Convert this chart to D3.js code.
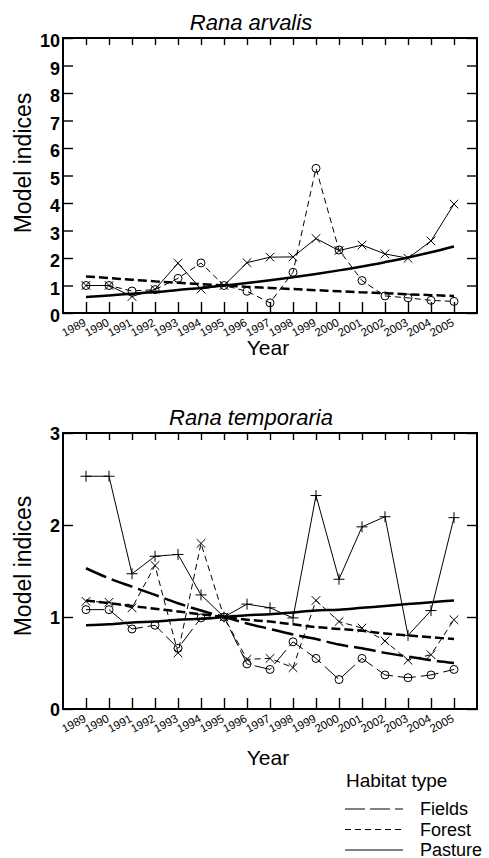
<!DOCTYPE html>
<html>
<head>
<meta charset="utf-8">
<script src="https://cdn.jsdelivr.net/npm/d3@7/dist/d3.min.js"></script>
<style>
  html, body { margin: 0; padding: 0; background: #fff; }
  svg { display: block; font-family: "Liberation Sans", Arial, Helvetica, sans-serif; }
</style>
</head>
<body>
<svg id="chart" width="489" height="858"></svg>
<script>
// Years on the x axis (also the tick labels)
const years = [1989, 1990, 1991, 1992, 1993, 1994, 1995, 1996, 1997, 1998, 1999, 2000, 2001, 2002, 2003, 2004, 2005];

// Rana arvalis: yearly indices and fitted trends
const arvalisForest = [1.0, 1.0, 0.8, 0.85, 1.26, 1.82, 1.0, 0.79, 0.37, 1.48, 5.26, 2.29, 1.18, 0.62, 0.55, 0.46, 0.42];
const arvalisPasture = [1.0, 1.0, 0.6, 0.86, 1.81, 0.87, 1.0, 1.83, 2.03, 2.04, 2.71, 2.27, 2.47, 2.15, 1.99, 2.62, 3.96];
const arvalisForestTrend = [1.33, 1.27, 1.21, 1.15, 1.10, 1.05, 1.0, 0.95, 0.91, 0.87, 0.83, 0.79, 0.75, 0.72, 0.68, 0.65, 0.62];
const arvalisPastureTrend = [0.58, 0.64, 0.70, 0.76, 0.84, 0.91, 1.0, 1.09, 1.19, 1.30, 1.42, 1.55, 1.69, 1.85, 2.02, 2.21, 2.42];
const arvalisTicks = [0, 1, 2, 3, 4, 5, 6, 7, 8, 9, 10];

// Rana temporaria: yearly indices and fitted trends
const temporariaFields = [1.08, 1.08, 0.87, 0.91, 0.66, 0.99, 1.0, 0.49, 0.43, 0.73, 0.55, 0.32, 0.55, 0.37, 0.34, 0.37, 0.43];
const temporariaForest = [1.17, 1.16, 1.1, 1.56, 0.61, 1.8, 1.0, 0.54, 0.55, 0.45, 1.18, 0.95, 0.88, 0.74, 0.53, 0.59, 0.97];
const temporariaPasture = [2.53, 2.53, 1.47, 1.66, 1.68, 1.24, 1.0, 1.14, 1.1, 0.99, 2.32, 1.41, 1.98, 2.09, 0.8, 1.07, 2.08];
const temporariaFieldsTrend = [1.53, 1.42, 1.33, 1.24, 1.15, 1.07, 1.0, 0.93, 0.87, 0.81, 0.76, 0.70, 0.66, 0.61, 0.57, 0.53, 0.50];
const temporariaForestTrend = [1.18, 1.15, 1.12, 1.09, 1.06, 1.03, 1.0, 0.97, 0.95, 0.92, 0.89, 0.87, 0.85, 0.82, 0.80, 0.78, 0.76];
const temporariaPastureTrend = [0.91, 0.92, 0.94, 0.95, 0.97, 0.98, 1.0, 1.02, 1.03, 1.05, 1.07, 1.08, 1.10, 1.12, 1.14, 1.16, 1.18];
const temporariaTicks = [0, 1, 2, 3];

// Legend entries
const habitats = ["Fields", "Forest", "Pasture"];

const svg = d3.select("#chart");
const left = 63, right = 477;
const x = d3.scaleLinear().domain([1988, 2006]).range([left, right]);

// dash patterns for thin series lines and thick trend lines
const thinDash = { Fields: "18,5", Forest: "6,4", Pasture: null };
const thickDash = { Fields: "22,6", Forest: "9,4", Pasture: null };

function drawMarker(g, kind, cx, cy) {
  if (kind === "circle") {
    g.append("circle").attr("cx", cx).attr("cy", cy).attr("r", 4)
      .attr("fill", "none").attr("stroke", "#000").attr("stroke-width", 1);
  } else if (kind === "x") {
    const s = 4.3;
    g.append("path").attr("d", `M${cx - s},${cy - s}L${cx + s},${cy + s}M${cx - s},${cy + s}L${cx + s},${cy - s}`)
      .attr("stroke", "#000").attr("stroke-width", 1).attr("fill", "none");
  } else {
    const s = 5.5;
    g.append("path").attr("d", `M${cx - s},${cy}L${cx + s},${cy}M${cx},${cy - s}L${cx},${cy + s}`)
      .attr("stroke", "#000").attr("stroke-width", 1).attr("fill", "none");
  }
}

function panel(opts) {
  const { top, bottom, ymax, ticks, title, series, trends, labelDy, yearY, labelMid } = opts;
  const y = d3.scaleLinear().domain([0, ymax]).range([bottom, top]);
  const g = svg.append("g");

  // thin series lines with markers
  series.forEach(s => {
    const line = d3.line().x((d, i) => x(years[i])).y(d => y(d));
    g.append("path").datum(s.values).attr("d", line)
      .attr("fill", "none").attr("stroke", "#000").attr("stroke-width", 1)
      .attr("stroke-dasharray", thinDash[s.habitat]);
    s.values.forEach((v, i) => drawMarker(g, s.marker, x(years[i]), y(v)));
  });

  // thick fitted trends
  trends.forEach(t => {
    const line = d3.line().x((d, i) => x(years[i])).y(d => y(d)).curve(d3.curveMonotoneX);
    g.append("path").datum(t.values).attr("d", line)
      .attr("fill", "none").attr("stroke", "#000").attr("stroke-width", 2.5)
      .attr("stroke-dasharray", thickDash[t.habitat]);
  });

  // axes with inward ticks on all sides
  const axB = d3.axisBottom(x).tickValues(years).tickSize(-11).tickFormat("");
  const axT = d3.axisTop(x).tickValues(years).tickSize(-7).tickFormat("");
  const axL = d3.axisLeft(y).tickValues(ticks).tickSize(-10).tickFormat("");
  const axR = d3.axisRight(y).tickValues(ticks).tickSize(-10).tickFormat("");
  [[axB, `translate(0,${bottom})`], [axT, `translate(0,${top})`],
   [axL, `translate(${left},0)`], [axR, `translate(${right},0)`]].forEach(([ax, tr]) => {
    const a = g.append("g").attr("transform", tr).call(ax);
    a.select(".domain").remove();
    a.selectAll(".tick line").attr("stroke", "#000").attr("stroke-width", 1.4);
  });
  g.append("rect").attr("x", left).attr("y", top).attr("width", right - left).attr("height", bottom - top)
    .attr("fill", "none").attr("stroke", "#000").attr("stroke-width", 2);

  // y tick labels
  g.selectAll(".ylab").data(ticks).join("text")
    .attr("x", left - 3).attr("y", d => y(d) + labelDy)
    .attr("text-anchor", "end").attr("dominant-baseline", "central")
    .attr("font-size", 18).attr("font-weight", "bold").text(d => d);

  // rotated year labels
  g.selectAll(".xlab").data(years).join("text")
    .attr("transform", d => `translate(${x(d) + 1},${bottom + 12}) rotate(-28)`)
    .attr("text-anchor", "end").attr("font-size", 11.5).text(d => d);

  // titles
  g.append("text").attr("x", 251).attr("y", top - 8).attr("text-anchor", "middle")
    .attr("font-size", 22).attr("font-style", "italic").text(title);
  g.append("text").attr("x", 268).attr("y", yearY).attr("text-anchor", "middle")
    .attr("font-size", 21).text("Year");
  g.append("text").attr("transform", `translate(31,${labelMid}) rotate(-90)`)
    .attr("text-anchor", "middle").attr("font-size", 23).text("Model indices");
}

panel({
  top: 38, bottom: 313, ymax: 10, ticks: arvalisTicks, title: "Rana arvalis", labelDy: 3,
  yearY: 355, labelMid: 163,
  series: [
    { habitat: "Forest", marker: "circle", values: arvalisForest },
    { habitat: "Pasture", marker: "x", values: arvalisPasture }
  ],
  trends: [
    { habitat: "Forest", values: arvalisForestTrend },
    { habitat: "Pasture", values: arvalisPastureTrend }
  ]
});

panel({
  top: 433, bottom: 709, ymax: 3, ticks: temporariaTicks, title: "Rana temporaria", labelDy: 1,
  yearY: 765, labelMid: 566,
  series: [
    { habitat: "Fields", marker: "circle", values: temporariaFields },
    { habitat: "Forest", marker: "x", values: temporariaForest },
    { habitat: "Pasture", marker: "plus", values: temporariaPasture }
  ],
  trends: [
    { habitat: "Fields", values: temporariaFieldsTrend },
    { habitat: "Forest", values: temporariaForestTrend },
    { habitat: "Pasture", values: temporariaPastureTrend }
  ]
});

// legend
const lg = svg.append("g");
lg.append("text").attr("x", 346).attr("y", 787).attr("font-size", 19).text("Habitat type");
habitats.forEach((h, i) => {
  const yy = 809 + i * 20.5;
  lg.append("line").attr("x1", 345).attr("x2", 403).attr("y1", yy).attr("y2", yy)
    .attr("stroke", "#000").attr("stroke-width", 1)
    .attr("stroke-dasharray", { Fields: "20,5", Forest: "6,4", Pasture: null }[h]);
  lg.append("text").attr("x", 420).attr("y", yy + 6).attr("font-size", 18).text(h);
});
</script>
</body>
</html>
